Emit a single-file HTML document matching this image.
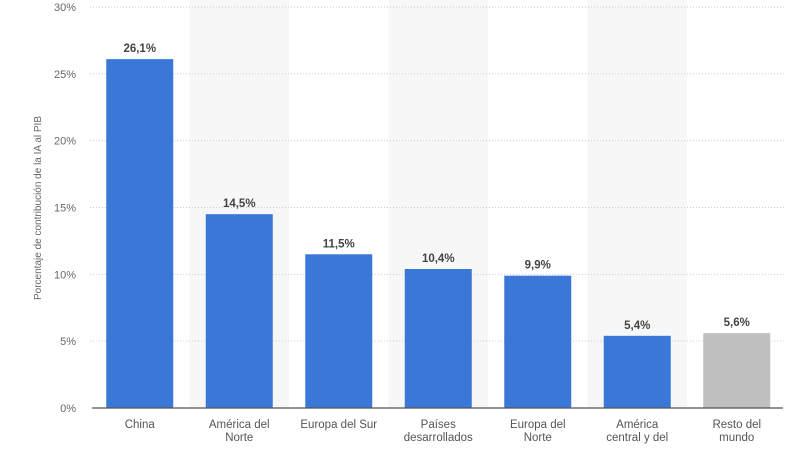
<!DOCTYPE html>
<html><head><meta charset="utf-8"><style>
body{margin:0;background:#fff;width:800px;height:445px;overflow:hidden;font-family:"Liberation Sans",sans-serif}
</style></head><body>
<svg id="chart" width="800" height="445" xmlns="http://www.w3.org/2000/svg">
<text transform="translate(41,208) rotate(-90)" text-anchor="middle" font-size="10" fill="#666">Porcentaje de contribución de la IA al PIB</text>
</svg>
<script>
const categories=[["China"],["América del","Norte"],["Europa del Sur"],["Países","desarrollados"],["Europa del","Norte"],["América","central y del"],["Resto del","mundo"]];
const values=[26.1,14.5,11.5,10.4,9.9,5.4,5.6];
const valueLabels=["26,1%","14,5%","11,5%","10,4%","9,9%","5,4%","5,6%"];
const tickValues=[0,5,10,15,20,25,30];
const tickLabels=["0%","5%","10%","15%","20%","25%","30%"];
const svg=document.getElementById('chart');const NS='http://www.w3.org/2000/svg';
const x0=90,bw=99.5,y0=408,yTop=7,vmax=30;
const y=v=>y0-(v/vmax)*(y0-yTop);
const bx=i=>x0+i*bw;
function mk(t,a){const e=document.createElementNS(NS,t);for(const k in a)e.setAttribute(k,a[k]);svg.appendChild(e);return e;}
categories.forEach((c,i)=>{if(i%2==1){const r=mk('rect',{x:bx(i),y:0,width:bw,height:y0,fill:'#f7f7f7'});

}});
tickValues.forEach((v,i)=>{
if(v>0){const g=mk('line',{x1:x0,x2:785,y1:y(v),y2:y(v),stroke:'#ccc','stroke-dasharray':'1,2'});

}
const t=mk('text',{x:76,y:y(v)+4,'text-anchor':'end','font-size':11,fill:'#666'});t.textContent=tickLabels[i];

});
values.forEach((v,i)=>{
const cx=bx(i)+bw/2;
const r=mk('rect',{x:cx-33.5,y:y(v),width:67,height:y0-y(v),fill:i==6?'#bfbfbf':'#3a78d8'});


const t=mk('text',{x:cx,y:y(v)-7,'text-anchor':'middle','font-size':11.5,'font-weight':'bold',fill:'#444'});t.textContent=valueLabels[i];


categories[i].forEach((ln,j)=>{const c=mk('text',{x:cx,y:428+j*13,'text-anchor':'middle','font-size':11.5,fill:'#555'});c.textContent=ln;

});
});
const ax=mk('line',{x1:92,x2:783,y1:y0,y2:y0,stroke:'#555','stroke-width':1.3});


</script>
</body></html>
